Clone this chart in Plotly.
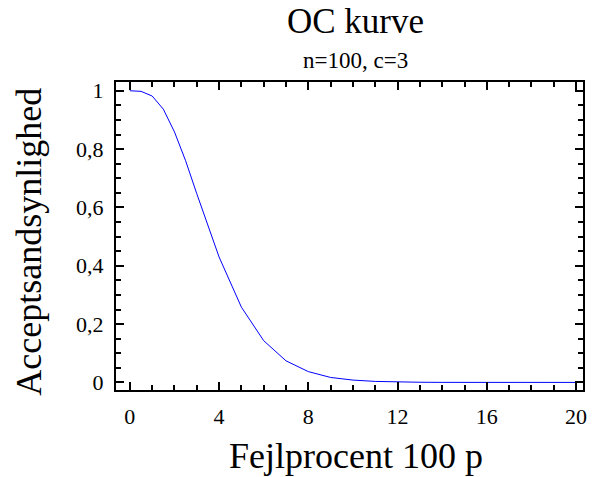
import plotly.graph_objects as go

# Fejlprocent (100 p) and acceptance probability
fejlprocent = [0, 0.5, 1, 1.5, 2, 2.5, 3, 3.5, 4, 5, 6, 7, 8, 9, 10, 11, 12, 13, 14, 15, 16, 17, 18, 19, 20]
accept = [1.0, 0.998, 0.982, 0.937, 0.859, 0.760, 0.647, 0.535, 0.430, 0.258, 0.143, 0.074, 0.037,
          0.017, 0.008, 0.0034, 0.0014, 0.0006, 0.0002, 0.0001, 0.0, 0.0, 0.0, 0.0, 0.0]

xticks = [0, 4, 8, 12, 16, 20]
yticks = [0, 0.2, 0.4, 0.6, 0.8, 1]
ytick_text = ["0", "0,2", "0,4", "0,6", "0,8", "1"]

FONT = "Liberation Serif"

fig = go.Figure()
fig.add_trace(go.Scatter(x=fejlprocent, y=accept, mode="lines",
                         line=dict(color="#0000ff", width=1), showlegend=False))

W, H = 598, 477
L, R, T, B = 116, 11, 82, 87
PW, PH = W - L - R, H - T - B

fig.update_layout(
    width=W, height=H,
    margin=dict(l=L, r=R, t=T, b=B),
    paper_bgcolor="white", plot_bgcolor="white",
    font=dict(family=FONT, color="black", size=22),
    xaxis=dict(range=[-0.62, 20.31], tickvals=xticks, ticks="inside", ticklen=8,
               tickwidth=1.5, tickcolor="black", showline=True, linecolor="black",
               linewidth=2, mirror="allticks", showgrid=False, zeroline=False,
               tickfont=dict(family=FONT, size=22), ticklabelstandoff=6,
               minor=dict(dtick=1, ticks="inside", ticklen=5, tickwidth=1.5, tickcolor="black", showgrid=False)),
    yaxis=dict(range=[-0.026, 1.03], tickvals=yticks, ticktext=ytick_text, ticks="inside",
               ticklen=8, tickwidth=1.5, tickcolor="black", showline=True, linecolor="black",
               linewidth=2, mirror="allticks", showgrid=False, zeroline=False,
               tickfont=dict(family=FONT, size=22), ticklabelstandoff=6,
               minor=dict(dtick=0.05, ticks="inside", ticklen=5, tickwidth=1.5, tickcolor="black", showgrid=False)),
)

def px_x(p):
    return (p - L) / PW

def px_y(p):
    return (H - B - p) / PH

fig.add_annotation(text="OC kurve", x=px_x(358), y=px_y(21), xref="paper", yref="paper",
                   showarrow=False, font=dict(family=FONT, size=35), xanchor="center", yanchor="middle")
fig.add_annotation(text="n=100, c=3", x=px_x(358), y=px_y(60), xref="paper", yref="paper",
                   showarrow=False, font=dict(family=FONT, size=23), xanchor="center", yanchor="middle")
fig.add_annotation(text="Fejlprocent 100 p", x=px_x(358), y=px_y(456), xref="paper", yref="paper",
                   showarrow=False, font=dict(family=FONT, size=36), xanchor="center", yanchor="middle")
fig.add_annotation(text="Acceptsandsynlighed", x=px_x(28), y=px_y(242), xref="paper", yref="paper",
                   showarrow=False, font=dict(family=FONT, size=36), textangle=-90,
                   xanchor="center", yanchor="middle")

fig.write_html("out.html")
